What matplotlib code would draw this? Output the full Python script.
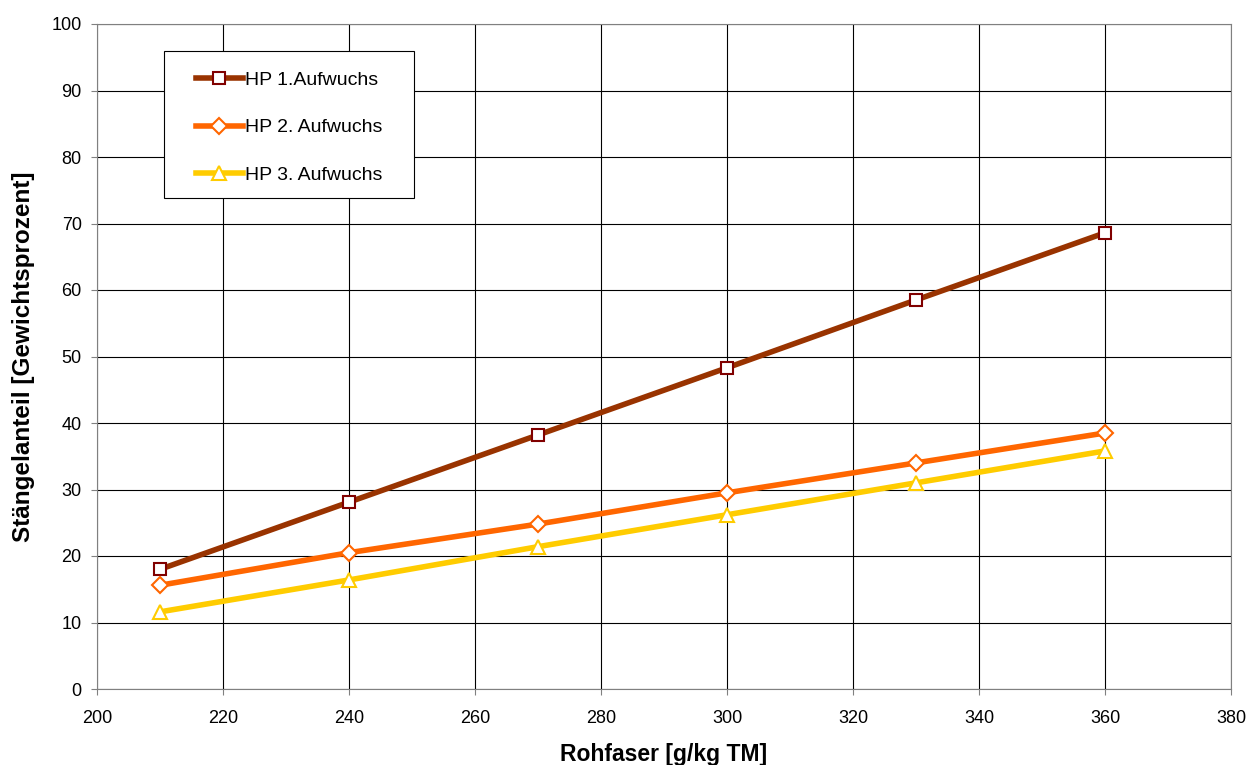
import numpy as np
import matplotlib.pyplot as plt
from matplotlib.patches import Rectangle

# Daten
rohfaser = [210, 240, 270, 300, 330, 360]
hp1 = [18.0, 28.1, 38.2, 48.3, 58.5, 68.6]
hp2 = [15.6, 20.5, 24.8, 29.5, 34.0, 38.5]
hp3 = [11.6, 16.4, 21.4, 26.2, 31.0, 35.8]
labels = ["HP 1.Aufwuchs", "HP 2. Aufwuchs", "HP 3. Aufwuchs"]

plt.rcParams['font.family'] = ['Liberation Sans', 'DejaVu Sans']

W, H = 1249, 765
fig = plt.figure(figsize=(W / 100, H / 100), dpi=100)
ax = fig.add_axes([97 / W, 1 - 689 / H, (1231 - 97) / W, (689 - 24) / H])

ax.plot(rohfaser, hp1, '-s', c="#993300", lw=4, mfc="white", mec="#800000",
        mew=1.5, ms=9, label=labels[0])
ax.plot(rohfaser, hp2, '-D', c="#FF6600", lw=4, mfc="white", mec="#FF6600",
        mew=1.5, ms=8, label=labels[1])
ax.plot(rohfaser, hp3, '-^', c="#FFCC00", lw=4, mfc="white", mec="#FFCC00",
        mew=1.5, ms=10, label=labels[2])

ax.set_xlim(200, 380)
ax.set_ylim(0, 100)
ax.set_xticks(np.arange(200, 381, 20))
ax.set_yticks(np.arange(0, 101, 10))
ax.grid(True, color="black", lw=0.8)
ax.set_axisbelow(True)
for s in ax.spines.values():
    s.set_color("#808080")
ax.tick_params(labelsize=13, length=4, color="#808080")
ax.tick_params(axis="x", pad=11)
ax.tick_params(axis="y", pad=7)

ax.set_xlabel("Rohfaser [g/kg TM]", fontsize=16.5, fontweight="bold", labelpad=12)
ax.set_ylabel("Stängelanteil [Gewichtsprozent]", fontsize=17.5, fontweight="bold", labelpad=12)

# Legendenrahmen
fig.patches.append(Rectangle((164 / W, 1 - 198 / H), 250 / W, 147 / H,
                             transform=fig.transFigure, fc="white", ec="black",
                             lw=0.8, zorder=3))
leg = fig.legend(loc="upper left", bbox_to_anchor=(196 / W, 1 - 71 / H),
                 fontsize=14, frameon=False, labelspacing=1.55,
                 handlelength=2.4, handletextpad=0.1, borderpad=0,
                 borderaxespad=0, markerscale=1.0)
leg.set_zorder(4)

fig.savefig("out.png", dpi=100)
